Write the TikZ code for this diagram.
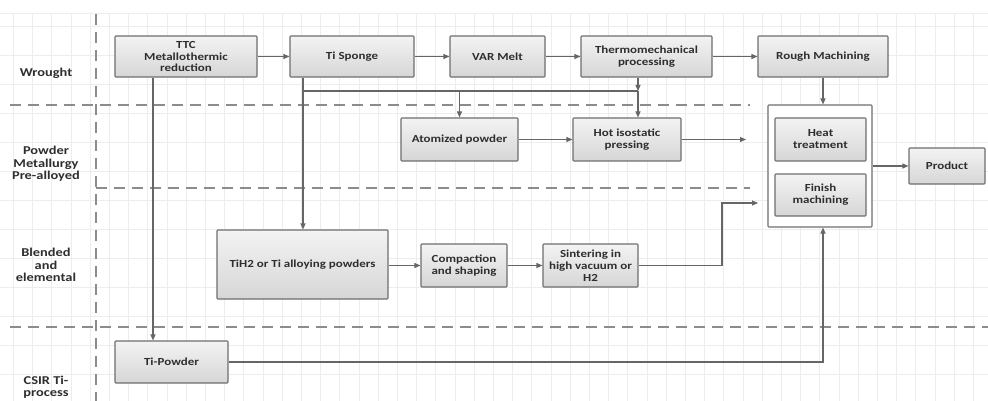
\documentclass[tikz,border=0pt]{standalone}
\usepackage{fontspec}
\newfontfamily\bx{Carlito}[FakeStretch=1.2]
\usetikzlibrary{arrows.meta}
\definecolor{boxline}{HTML}{6E6E6E}
\definecolor{boxtop}{HTML}{F3F3F3}
\definecolor{boxbot}{HTML}{D6D6D6}
\definecolor{txt}{HTML}{2E2E2E}
\definecolor{conn}{HTML}{666666}
\definecolor{dashc}{HTML}{8C8C8C}
\definecolor{gridc}{HTML}{EDEDED}
\tikzset{
  box/.style={draw=boxline, line width=1.1pt, top color=boxtop, bottom color=boxbot,
    font=\bx\bfseries\fontsize{10.8}{12}\selectfont, text=txt, align=center,
    inner sep=0pt, rounded corners=0.8pt},
  container/.style={draw=boxline, line width=1.1pt, fill=white, inner sep=0pt, rounded corners=0.8pt},
  lane/.style={font=\bx\bfseries\fontsize{12}{12.5}\selectfont, text=txt, align=center},
  conline/.style={draw=conn, line width=1.1pt},
  arr/.style={conline, -{Triangle[length=6pt,width=5pt]}},
  sep/.style={draw=dashc, line width=1.6pt, dash pattern=on 11pt off 7pt},
  gridline/.style={draw=gridc, line width=0.8pt}
}
\begin{document}
\begin{tikzpicture}[x=1pt,y=-1pt]
\useasboundingbox[fill=white] (0,0) rectangle (988,401);
% faint background grid
\foreach \k in {0,...,51} {\draw[gridline] ({13.3+19.2*\k},13) -- ({13.3+19.2*\k},401);}
\foreach \k in {0,...,13} {\draw[gridline] (0,{26+29*\k}) -- (988,{26+29*\k});}
\draw[gridline] (0,13) -- (988,13);
% lane separators
\draw[sep] (96,14) -- (96,401);
\draw[sep] (10,105) -- (750,105);
\draw[sep] (96,188) -- (750,188);
\draw[sep] (10,327) -- (988,327);
% lane labels
\node[lane] (lw) at (46,73) {Wrought};
\node[lane] (lp) at (46,164) {Powder\\Metallurgy\\Pre-alloyed};
\node[lane] (lb) at (46,265) {Blended\\and\\elemental};
\node[lane] (lc) at (46,387) {CSIR Ti-\\process};
% container
\node[container, minimum width=104pt, minimum height=122pt] (cont) at (820,166) {};
% boxes
\node[box, minimum width=142pt, minimum height=41pt] (ttc) at (186,56.5) {TTC\\Metallothermic\\reduction};
\node[box, minimum width=124pt, minimum height=41pt] (sponge) at (352,56.5) {Ti Sponge};
\node[box, minimum width=95pt, minimum height=41pt] (var) at (497.5,56.5) {VAR Melt};
\node[box, minimum width=131pt, minimum height=41pt] (thermo) at (646.5,56.5) {Thermomechanical\\processing};
\node[box, minimum width=130pt, minimum height=41pt] (rough) at (823,56.5) {Rough Machining};
\node[box, minimum width=117pt, minimum height=43pt] (atom) at (459.5,139.5) {Atomized powder};
\node[box, minimum width=108pt, minimum height=43pt] (hip) at (627,139.5) {Hot isostatic\\pressing};
\node[box, minimum width=91pt, minimum height=43pt] (heat) at (820.5,139.5) {Heat\\treatment};
\node[box, minimum width=91pt, minimum height=42pt] (finish) at (820.5,195) {Finish\\machining};
\node[box, minimum width=76pt, minimum height=36pt] (product) at (947,166) {Product};
\node[box, minimum width=171pt, minimum height=69pt] (tih2) at (302.5,264.5) {TiH2 or Ti alloying powders};
\node[box, minimum width=86pt, minimum height=43pt] (comp) at (464,265.5) {Compaction\\and shaping};
\node[box, minimum width=95pt, minimum height=43pt] (sint) at (590.5,265.5) {Sintering in\\high vacuum or\\H2};
\node[box, minimum width=113pt, minimum height=42pt] (tip) at (171.5,362) {Ti-Powder};
% junctions
\coordinate (j1) at (303,91);
\coordinate (j2) at (638,91);
\coordinate (hipend) at (746,139.5);
\coordinate (s1) at (722,265.5);
\coordinate (s2) at (722,203);
\coordinate (s3) at (758,203);
\coordinate (t1) at (823,362);
% connectors
\draw[arr] (ttc) -- (sponge);
\draw[arr] (sponge) -- (var);
\draw[arr] (var) -- (thermo);
\draw[arr] (thermo) -- (rough);
\draw[arr] ([xshift=-33pt]ttc.south) -- ([xshift=-33pt]ttc.south |- tip.north);
\draw[arr] ([xshift=-49pt]sponge.south) -- ([xshift=-49pt]sponge.south |- tih2.north);
\draw[conline] (j1) -- (j2);
\draw[arr] (atom.north |- j1) -- (atom.north);
\draw[arr] ([xshift=-8.5pt]thermo.south) -- (j2);
\draw[arr] (j2) -- (j2 |- hip.north);
\draw[arr] (atom) -- (hip);
\draw[arr] (hip.east) -- (hipend);
\draw[arr] (rough.south) -- (rough.south |- cont.north);
\draw[arr] (tih2.east |- comp.west) -- (comp.west);
\draw[arr] (comp) -- (sint);
\draw[arr] (sint.east) -- (s1) -- (s2) -- (s3);
\draw[arr] (tip.east) -- (t1) -- (t1 |- cont.south);
\draw[arr] (cont.east) -- (product.west);
\end{tikzpicture}
\end{document}
